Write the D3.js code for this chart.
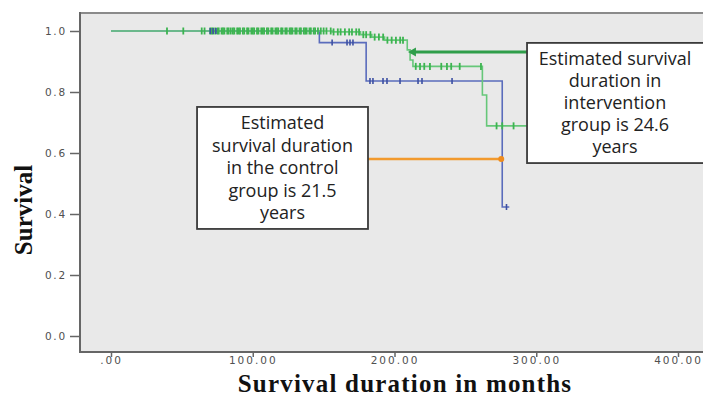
<!DOCTYPE html>
<html lang="en">
<head>
    <meta charset="UTF-8">
    <title>survival curve</title>
    <script src="https://cdn.jsdelivr.net/npm/d3@7"></script>
    <style>
        body{
            margin: 0;
            background: white;
        }
        .tick text{
            font-family: "DejaVu Sans", sans-serif;
            fill: #505050;
        }
        .boxText{
            font-family: "Open Sans", sans-serif;
            font-size: 18px;
            fill: #222;
        }
        .axTitle{
            font-family: "Liberation Serif", serif;
            font-weight: bold;
            font-size: 25px;
            fill: #111;
        }
    </style>
</head>
<body>
<svg id="chart" width="703" height="397"></svg>
<script>
    // Kaplan-Meier steps (months, survival)
    let greenTimes = [0, 156, 176, 184, 193, 209, 211, 213, 262, 265, 298]
    let greenSurv  = [1.0, 0.997, 0.988, 0.980, 0.970, 0.938, 0.905, 0.884, 0.790, 0.689, 0.689]
    let blueTimes = [0, 147, 180, 276, 281]
    let blueSurv  = [1.0, 0.962, 0.836, 0.423, 0.423]

    // censored cases (months)
    let greenCensor = [39.5, 51, 64, 66, 70, 71, 72, 73.5, 75, 76, 78, 79, 80, 82, 83, 84.5, 86, 87, 89, 90,
        91, 93, 94, 96, 97, 99, 100, 101, 103, 104, 106, 107, 108, 110, 111, 113, 114, 116, 117, 118,
        120, 121, 123, 124, 126, 127, 128, 130, 131, 133, 134, 136, 137, 138, 140, 141, 143, 144, 146, 148,
        150, 152, 155, 157, 160, 162, 165, 168, 170, 173, 175, 178, 180, 183, 186, 189, 192, 195, 198, 201, 204, 206,
        215, 218, 221, 225, 233, 237, 240, 246, 261, 272, 276, 284]
    let blueCensor = [70, 72, 74, 156, 166.5, 168.6, 170.7, 182.7, 184.8, 191.9, 194.7, 203.9, 216.6, 219.4, 240.6, 279]

    // annotation lines: [from month, to month, survival]
    let orangeLine = [181, 276, 0.58]
    let greenArrow = [293.5, 209.5, 0.931]

    let yTicks = [0, 0.2, 0.4, 0.6, 0.8, 1.0]
    let xTicks = [0, 100, 200, 300, 400]

    let leftBoxLines = ["Estimated", "survival duration", "in the control", "group is 21.5", "years"]
    let rightBoxLines = ["Estimated survival", "duration in", "intervention", "group is 24.6", "years"]
    // box corners in data units: [x0, x1, yTop, yBottom]
    let leftBox = [60.7, 181.3, 0.751, 0.351]
    let rightBox = [293.5, 420, 0.961, 0.567]

    let svg = d3.select("#chart")

    let x = d3.scaleLinear().domain([0, 400]).range([111, 678])
    let y = d3.scaleLinear().domain([0, 1]).range([336, 31])

    // plot frame
    svg.append("rect")
        .attr("x", 80).attr("y", 13)
        .attr("width", 640).attr("height", 339)
        .attr("fill", "#e9e9e9")
        .attr("stroke", "#8a8a8a")
        .attr("stroke-width", 2)
    svg.append("line").attr("x1", 80).attr("x2", 80).attr("y1", 12).attr("y2", 353)
        .attr("stroke", "#666").attr("stroke-width", 2)
    svg.append("line").attr("x1", 79).attr("x2", 703).attr("y1", 352).attr("y2", 352)
        .attr("stroke", "#666").attr("stroke-width", 2)

    let yAxis = svg.append("g")
        .attr("transform", "translate(80,0)")
        .call(d3.axisLeft(y).tickValues(yTicks).tickSize(10).tickPadding(3)
            .tickFormat(d3.format(".1f")))
    yAxis.select(".domain").remove()
    yAxis.selectAll(".tick line").attr("stroke", "#666").attr("stroke-width", 1.5)
    yAxis.selectAll(".tick text").attr("font-size", 10.5).attr("letter-spacing", 1.8)

    let xAxis = svg.append("g")
        .attr("transform", "translate(0,352)")
        .call(d3.axisBottom(x).tickValues(xTicks).tickSize(5).tickPadding(0)
            .tickFormat(d => d === 0 ? ".00" : d.toFixed(2)))
    xAxis.select(".domain").remove()
    xAxis.selectAll(".tick line").attr("stroke", "#666").attr("stroke-width", 1.5)
    xAxis.selectAll(".tick text").attr("font-size", 10.5).attr("letter-spacing", 2)

    // survival at time t along a step curve
    function survAt(times, surv, t){
        let i = d3.bisectRight(times, t) - 1
        return surv[Math.max(0, i)]
    }

    let stepLine = d3.line()
        .x(d => x(d[0]))
        .y(d => y(d[1]))
        .curve(d3.curveStepAfter)

    function drawGroup(times, surv, censor, lineColor, tickColor){
        let pts = d3.zip(times, surv)
        svg.append("path")
            .datum(pts)
            .attr("d", stepLine)
            .attr("fill", "none")
            .attr("stroke", lineColor)
            .attr("stroke-width", 1.6)
        svg.append("g")
            .selectAll("line")
            .data(censor)
            .enter()
            .append("line")
            .attr("x1", d => x(d)).attr("x2", d => x(d))
            .attr("y1", d => y(survAt(times, surv, d)) - 3.5)
            .attr("y2", d => y(survAt(times, surv, d)) + 3.5)
            .attr("stroke", tickColor)
            .attr("stroke-width", 1.8)
    }

    drawGroup(blueTimes, blueSurv, [], "#5a6cbc", "#3d50a3")
    drawGroup(greenTimes, greenSurv, greenCensor, "#66c779", "#3cb450")
    // blue censor ticks drawn last so they sit on top
    svg.append("g")
        .selectAll("line")
        .data(blueCensor)
        .enter()
        .append("line")
        .attr("x1", d => x(d)).attr("x2", d => x(d))
        .attr("y1", d => y(survAt(blueTimes, blueSurv, d)) - 3)
        .attr("y2", d => y(survAt(blueTimes, blueSurv, d)) + 3)
        .attr("stroke", "#3d50a3")
        .attr("stroke-width", 1.6)

    // annotation: orange line to control curve
    svg.append("line")
        .attr("x1", x(orangeLine[0])).attr("x2", x(orangeLine[1]))
        .attr("y1", y(orangeLine[2])).attr("y2", y(orangeLine[2]))
        .attr("stroke", "#f29a2e").attr("stroke-width", 2.5)
    svg.append("circle")
        .attr("cx", x(orangeLine[1]) - 1).attr("cy", y(orangeLine[2]))
        .attr("r", 3).attr("fill", "#f08c1c")

    // annotation: green arrow to intervention curve
    svg.append("line")
        .attr("x1", x(greenArrow[0])).attr("x2", x(greenArrow[1]) + 5)
        .attr("y1", y(greenArrow[2])).attr("y2", y(greenArrow[2]))
        .attr("stroke", "#2f9e4a").attr("stroke-width", 3)
    let ax = x(greenArrow[1]), ay = y(greenArrow[2])
    svg.append("path")
        .attr("d", `M${ax},${ay} L${ax + 8},${ay - 4.5} L${ax + 8},${ay + 4.5} Z`)
        .attr("fill", "#2f9e4a")

    function drawBox(b, lines, lineGap){
        let x0 = x(b[0]), x1 = x(b[1]), y0 = y(b[2]), y1 = y(b[3])
        svg.append("rect")
            .attr("x", x0).attr("y", y0)
            .attr("width", x1 - x0).attr("height", y1 - y0)
            .attr("fill", "white")
            .attr("stroke", "#3a3a3a")
            .attr("stroke-width", 1.8)
        let cx = (x0 + Math.min(x1, 703)) / 2
        let top = y0 + ((y1 - y0) - lineGap * (lines.length - 1)) / 2
        svg.append("g")
            .selectAll("text")
            .data(lines)
            .enter()
            .append("text")
            .attr("class", "boxText")
            .attr("x", cx)
            .attr("y", (d, i) => top + i * lineGap)
            .attr("dy", "0.35em")
            .attr("text-anchor", "middle")
            .text(d => d)
    }
    drawBox(leftBox, leftBoxLines, 22.5)
    drawBox(rightBox, rightBoxLines, 22)

    // axis titles
    svg.append("text")
        .attr("class", "axTitle")
        .attr("x", 405).attr("y", 391.5)
        .attr("text-anchor", "middle")
        .attr("letter-spacing", 1.2)
        .text("Survival duration in months")
    svg.append("text")
        .attr("class", "axTitle")
        .attr("font-size", 26)
        .attr("transform", "translate(32,210) rotate(-90)")
        .attr("text-anchor", "middle")
        .text("Survival")
</script>
</body>
</html>
